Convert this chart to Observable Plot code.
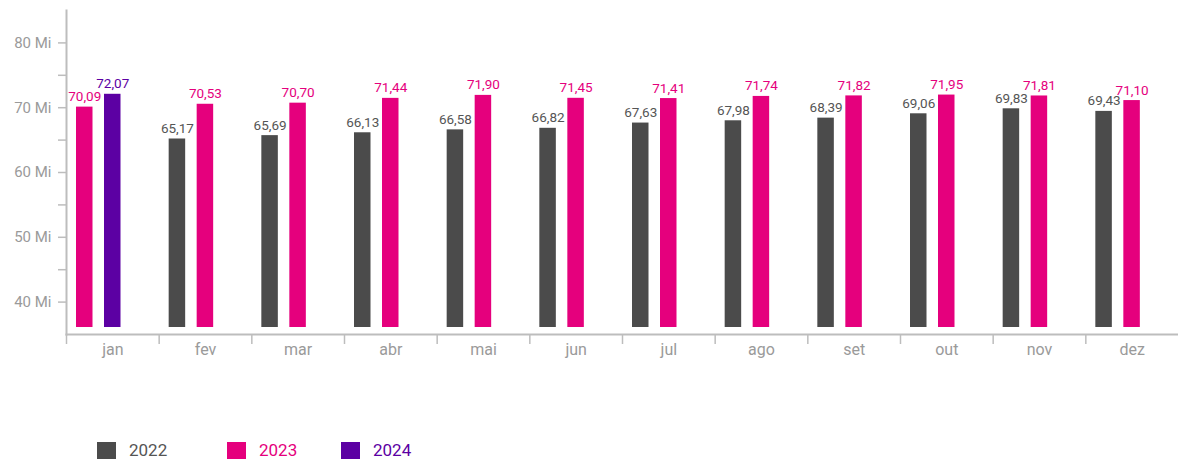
<!DOCTYPE html>
<html><head><meta charset="utf-8">
<script src="https://cdn.jsdelivr.net/npm/d3@7"></script>
<script src="https://cdn.jsdelivr.net/npm/@observablehq/plot@0.6"></script>
<style>
body{margin:0;background:#fff;font-family:Roboto,sans-serif;}
#legend{display:flex;align-items:center;margin-top:70px;padding-left:97px;font-size:17px;line-height:17px;}
.item{display:flex;align-items:center;}
.sw{width:19px;height:17px;margin-right:13px;}
.yax text{font-size:15px;}
.xax text{font-size:16px;}
.vlab text{font-size:13.5px;}
</style></head><body>
<div id="chart"></div>
<div id="legend"></div>
<script>
const months = ["jan","fev","mar","abr","mai","jun","jul","ago","set","out","nov","dez"];
const years = ["2022","2023","2024"];
const values2022 = [null, 65.17, 65.69, 66.13, 66.58, 66.82, 67.63, 67.98, 68.39, 69.06, 69.83, 69.43];
const values2023 = [70.09, 70.53, 70.70, 71.44, 71.90, 71.45, 71.41, 71.74, 71.82, 71.95, 71.81, 71.10];
const values2024 = [72.07, null, null, null, null, null, null, null, null, null, null, null];
const yTicks = [40, 50, 60, 70, 80];
const yMinorTicks = [45, 55, 65, 75];
const barColors = ["#4b4b4b", "#e5007d", "#5c00a3"];
const labelColors = ["#555555", "#e5007d", "#5c00a3"];

const series = [values2022, values2023, values2024];
const rows = [];
months.forEach((m, i) => {
  let slot = 0;
  series.forEach((vals, k) => {
    if (vals[i] != null) rows.push({month: m, year: years[k], value: vals[i], slot: slot++});
  });
});
const fmt = v => v.toFixed(2).replace(".", ",");

const W = 1178, ML = 66, MR = 0;
const band = (W - ML - MR) / months.length;
const grey = "#bdbdbd";
const textGrey = "#9a9a9a";

function slotMarks(slot, left) {
  const data = rows.filter(d => d.slot === slot);
  const bw = 16.5;
  return [
    Plot.barY(data, {x: "month", y1: 35, y2: "value", fill: "year",
      insetLeft: left, insetRight: band - left - bw, insetBottom: 7}),
    Plot.text(data, {x: "month", y: "value", text: d => fmt(d.value),
      fill: d => labelColors[years.indexOf(d.year)], className: "vlab",
      dx: left + bw / 2 - band / 2, dy: -6, lineAnchor: "bottom"})
  ];
}

const chart = Plot.plot({
  width: W, height: 372, marginLeft: ML, marginRight: MR, marginTop: 10, marginBottom: 38,
  style: {fontFamily: "Roboto, sans-serif", background: "white"},
  x: {domain: months, padding: 0, round: false},
  y: {domain: [35, 85]},
  color: {domain: years, range: barColors},
  marks: [
    ...slotMarks(0, 10),
    ...slotMarks(1, 38),
    Plot.axisY({ticks: yTicks, tickFormat: d => `${d} Mi`, tickSize: 8, tickPadding: 7,
      className: "yax", stroke: grey, fill: textGrey, strokeWidth: 1.5, label: null}),
    Plot.axisY({ticks: yMinorTicks, tickFormat: () => "", tickSize: 8,
      stroke: grey, strokeWidth: 1.5, label: null}),
    Plot.axisX({tickSize: 0, tickPadding: 9, className: "xax", fill: textGrey, label: null}),
    Plot.axisX({tickSize: 10, tickFormat: () => "", dx: -band / 2, stroke: grey, strokeWidth: 1.5, label: null}),
    Plot.frame({anchor: "left", stroke: grey, strokeWidth: 2}),
    Plot.frame({anchor: "bottom", stroke: grey, strokeWidth: 2})
  ]
});
document.getElementById("chart").appendChild(chart);

const legend = document.getElementById("legend");
const itemWidths = [130, 114, null];
years.forEach((y, k) => {
  const it = document.createElement("div");
  it.className = "item";
  if (itemWidths[k]) it.style.width = itemWidths[k] + "px";
  const sw = document.createElement("span");
  sw.className = "sw";
  sw.style.background = barColors[k];
  const tx = document.createElement("span");
  tx.textContent = y;
  tx.style.color = labelColors[k];
  it.appendChild(sw); it.appendChild(tx);
  legend.appendChild(it);
});
</script></body></html>
